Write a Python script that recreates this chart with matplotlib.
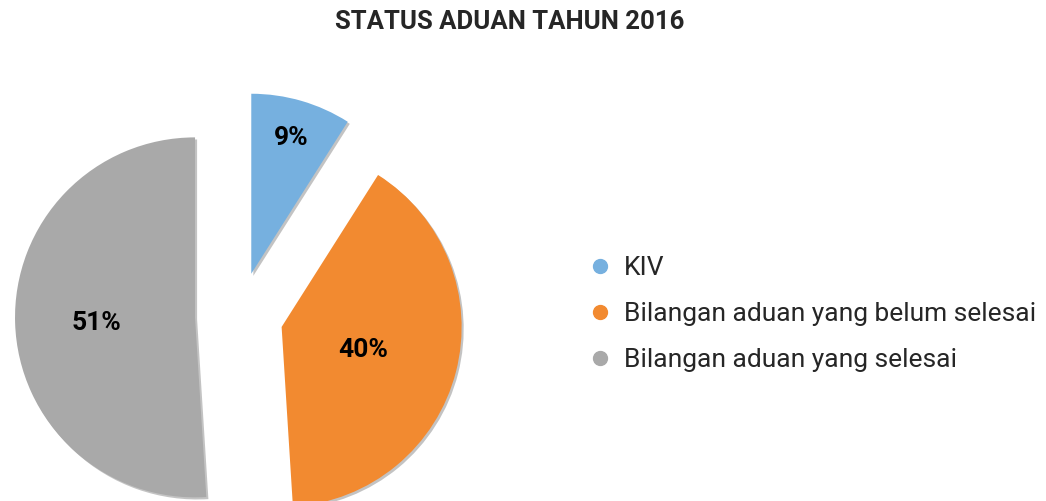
import matplotlib
matplotlib.use("Agg")
import matplotlib.pyplot as plt
import matplotlib.patheffects as pe
from matplotlib.lines import Line2D
import numpy as np

title = "STATUS ADUAN TAHUN 2016"
categories = ["KIV", "Bilangan aduan yang belum selesai", "Bilangan aduan yang selesai"]
values = [9, 40, 51]
colors = ["#76B0DF", "#F28A30", "#A9A9A9"]
label_dist = [0.80, 0.47, 0.55]

W, H = 1046, 501
fig = plt.figure(figsize=(W / 100, H / 100), dpi=100)
ax = fig.add_axes([0, 0, 1, 1])

R = 180
cx, cy = 239, H - 316
wedges, texts = ax.pie(values, radius=R, center=(cx, cy), startangle=90,
                       counterclock=False, colors=colors,
                       explode=[44, 44, 44], frame=True,
                       wedgeprops=dict(linewidth=0))
ax.set_xlim(0, W)
ax.set_ylim(0, H)
ax.axis("off")

for w in wedges:
    w.set_path_effects([pe.SimplePatchShadow(offset=(1.5, -1.5), shadow_rgbFace="#555555", alpha=0.35),
                        pe.Normal()])

total = sum(values)
for w, v, d in zip(wedges, values, label_dist):
    tm = np.deg2rad((w.theta1 + w.theta2) / 2)
    x0, y0 = w.center
    ax.text(x0 + R * d * np.cos(tm), y0 + R * d * np.sin(tm), f"{v / total * 100:.0f}%",
            ha="center", va="center_baseline", fontsize=19, fontweight="bold",
            family="Roboto", color="black")

fig.text(510 / W, (H - 22) / H, title, ha="center", va="center",
         fontsize=18.5, fontweight="bold", family="Roboto", color="#262626")

handles = [Line2D([], [], marker="o", linestyle="none", markersize=10,
                  markerfacecolor=c, markeredgecolor=c) for c in colors]
leg = ax.legend(handles, categories, loc="center left",
                bbox_to_anchor=(574 / W, (H - 314) / H), frameon=False,
                prop=dict(family="Roboto", size=19), labelspacing=0.84,
                handletextpad=0.3, handlelength=1.2, borderaxespad=0)
for t in leg.get_texts():
    t.set_color("#262626")

fig.savefig("out.png", dpi=100, facecolor="white")
